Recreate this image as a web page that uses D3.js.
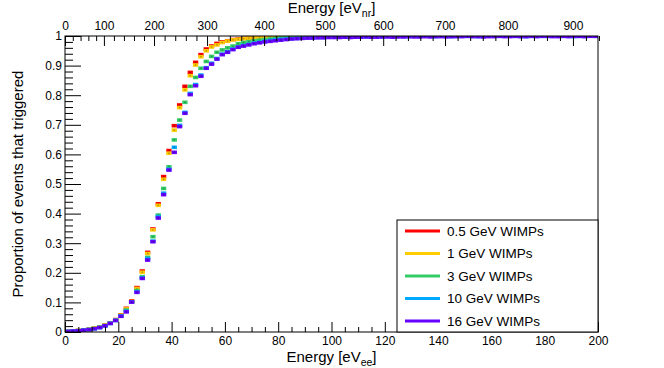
<!DOCTYPE html>
<html>
<head>
<meta charset="utf-8">
<script src="https://cdn.jsdelivr.net/npm/d3@7"></script>
<style>
  body { margin: 0; background: #fff; }
  svg text { font-family: "Liberation Sans", Arial, Helvetica, sans-serif; fill: #000; }
</style>
</head>
<body>
<div id="chart"></div>
<script>
// bin centres in eV_ee (bins 2 eV wide)
const binWidth = 2;
const binCenters = [
  1, 3, 5, 7, 9, 11, 13, 15, 17, 19,
  21, 23, 25, 27, 29, 31, 33, 35, 37, 39,
  41, 43, 45, 47, 49, 51, 53, 55, 57, 59,
  61, 63, 65, 67, 69, 71, 73, 75, 77, 79,
  81, 83, 85, 87, 89, 91, 93, 95, 97, 99,
  101, 103, 105, 107, 109, 111, 113, 115, 117, 119,
  121, 123, 125, 127, 129, 131, 133, 135, 137, 139,
  141, 143, 145, 147, 149, 151, 153, 155, 157, 159,
  161, 163, 165, 167, 169, 171, 173, 175, 177, 179,
  181, 183, 185, 187, 189, 191, 193, 195, 197, 199
];

const seriesNames = ["0.5 GeV WIMPs", "1 GeV WIMPs", "3 GeV WIMPs", "10 GeV WIMPs", "16 GeV WIMPs"];
const seriesColors = ["#ff0000", "#ffcc00", "#33cc66", "#00aaff", "#6600ff"];

const eff05 = [
  0.002, 0.003, 0.005, 0.007, 0.009, 0.013, 0.017, 0.023, 0.031, 0.042,
  0.058, 0.080, 0.105, 0.150, 0.206, 0.269, 0.348, 0.433, 0.525, 0.613,
  0.697, 0.767, 0.830, 0.877, 0.911, 0.937, 0.956, 0.966, 0.975, 0.980,
  0.984, 0.988, 0.990, 0.992, 0.993, 0.995, 0.996, 0.996, 0.997, 0.998,
  0.998, 0.998, 0.999, 0.998, 0.999, 0.999, 0.999, 0.999, 1.000, 0.999,
  0.999, 1.000, 0.999, 1.000, 1.000, 0.999, 1.000, 1.000, 1.000, 0.999,
  1.000, 1.000, 1.000, 1.000, 0.999, 1.000, 1.000, 1.000, 1.000, 1.000,
  1.000, 1.000, 0.999, 1.000, 1.000, 1.000, 1.000, 1.000, 1.000, 1.000,
  1.000, 1.000, 1.000, 1.000, 1.000, 1.000, 1.000, 1.000, 1.000, 1.000,
  1.000, 1.000, 1.000, 1.000, 1.000, 1.000, 1.000, 1.000, 1.000, 1.000
];
const eff1 = [
  0.002, 0.003, 0.005, 0.007, 0.009, 0.013, 0.017, 0.023, 0.031, 0.041,
  0.057, 0.078, 0.103, 0.147, 0.202, 0.265, 0.345, 0.428, 0.516, 0.604,
  0.682, 0.758, 0.818, 0.866, 0.902, 0.930, 0.950, 0.963, 0.970, 0.978,
  0.983, 0.987, 0.989, 0.991, 0.993, 0.994, 0.995, 0.996, 0.997, 0.997,
  0.998, 0.998, 0.998, 0.999, 0.999, 0.999, 0.999, 0.999, 0.999, 1.000,
  0.999, 0.999, 1.000, 0.999, 1.000, 1.000, 0.999, 1.000, 1.000, 1.000,
  1.000, 0.999, 1.000, 1.000, 1.000, 1.000, 1.000, 0.999, 1.000, 1.000,
  1.000, 1.000, 1.000, 1.000, 1.000, 1.000, 0.999, 1.000, 1.000, 1.000,
  1.000, 1.000, 1.000, 1.000, 1.000, 1.000, 1.000, 1.000, 1.000, 1.000,
  1.000, 1.000, 1.000, 1.000, 1.000, 1.000, 1.000, 1.000, 1.000, 1.000
];
const eff3 = [
  0.002, 0.003, 0.005, 0.007, 0.009, 0.012, 0.016, 0.022, 0.030, 0.040,
  0.055, 0.074, 0.102, 0.140, 0.187, 0.252, 0.322, 0.395, 0.485, 0.558,
  0.649, 0.716, 0.776, 0.830, 0.860, 0.891, 0.914, 0.931, 0.945, 0.953,
  0.960, 0.966, 0.974, 0.978, 0.981, 0.984, 0.986, 0.988, 0.990, 0.992,
  0.993, 0.994, 0.995, 0.996, 0.996, 0.997, 0.997, 0.998, 0.998, 0.998,
  0.998, 0.999, 0.998, 0.999, 0.999, 0.999, 0.998, 0.999, 0.999, 0.999,
  1.000, 0.999, 0.999, 1.000, 0.999, 1.000, 0.999, 1.000, 1.000, 0.999,
  1.000, 1.000, 1.000, 0.999, 1.000, 1.000, 1.000, 1.000, 0.999, 1.000,
  1.000, 1.000, 1.000, 1.000, 1.000, 0.999, 1.000, 1.000, 1.000, 1.000,
  1.000, 1.000, 1.000, 1.000, 1.000, 1.000, 0.999, 1.000, 1.000, 1.000
];
const eff10 = [
  0.002, 0.003, 0.004, 0.006, 0.008, 0.011, 0.015, 0.021, 0.029, 0.039,
  0.054, 0.070, 0.102, 0.136, 0.183, 0.248, 0.307, 0.390, 0.469, 0.550,
  0.624, 0.698, 0.742, 0.806, 0.836, 0.868, 0.893, 0.908, 0.924, 0.939,
  0.947, 0.956, 0.963, 0.968, 0.972, 0.976, 0.979, 0.982, 0.985, 0.987,
  0.989, 0.990, 0.991, 0.992, 0.993, 0.994, 0.994, 0.995, 0.995, 0.996,
  0.996, 0.997, 0.996, 0.997, 0.997, 0.998, 0.997, 0.998, 0.998, 0.997,
  0.998, 0.998, 0.999, 0.998, 0.998, 0.999, 0.998, 0.999, 0.999, 0.998,
  0.999, 0.999, 0.998, 0.999, 0.999, 0.999, 0.999, 0.998, 0.999, 0.999,
  0.999, 0.999, 0.999, 1.000, 0.999, 0.999, 0.998, 0.999, 0.999, 0.999,
  0.999, 1.000, 0.999, 0.999, 0.999, 0.998, 0.999, 0.999, 1.000, 0.999
];
const eff16 = [
  0.002, 0.003, 0.004, 0.006, 0.008, 0.011, 0.015, 0.021, 0.029, 0.039,
  0.053, 0.068, 0.101, 0.134, 0.181, 0.243, 0.305, 0.385, 0.464, 0.547,
  0.607, 0.694, 0.739, 0.802, 0.832, 0.864, 0.891, 0.905, 0.922, 0.937,
  0.945, 0.954, 0.962, 0.966, 0.970, 0.974, 0.977, 0.980, 0.982, 0.984,
  0.986, 0.988, 0.990, 0.991, 0.992, 0.993, 0.993, 0.994, 0.994, 0.995,
  0.995, 0.995, 0.996, 0.995, 0.996, 0.996, 0.997, 0.996, 0.996, 0.997,
  0.997, 0.996, 0.997, 0.997, 0.998, 0.997, 0.997, 0.998, 0.997, 0.998,
  0.998, 0.997, 0.998, 0.998, 0.998, 0.999, 0.998, 0.998, 0.997, 0.998,
  0.998, 0.999, 0.998, 0.998, 0.999, 0.998, 0.998, 0.999, 0.998, 0.999,
  0.999, 0.998, 0.998, 0.999, 0.998, 0.999, 0.999, 0.998, 0.999, 0.999
];
const seriesValues = [eff05, eff1, eff3, eff10, eff16];

// axis ticks
const xMajor = [0, 20, 40, 60, 80, 100, 120, 140, 160, 180, 200];
const yMajor = [0, 0.1, 0.2, 0.3, 0.4, 0.5, 0.6, 0.7, 0.8, 0.9, 1];
// top axis: nuclear recoil energy labels and the eV_ee where each sits
const topTickNr = [0, 100, 200, 300, 400, 500, 600, 700, 800, 900];
const topTickEe = [0, 14.6, 33.4, 53.3, 74.7, 97.6, 119.4, 142.6, 166.2, 190.6];

const width = 664, height = 368;
const margin = { top: 36, right: 66, bottom: 36, left: 65 };

const svg = d3.select("#chart").append("svg")
  .attr("width", width)
  .attr("height", height);

const x = d3.scaleLinear().domain([0, 200]).range([margin.left, width - margin.right]);
const y = d3.scaleLinear().domain([0, 1]).range([height - margin.bottom, margin.top]);
// piecewise scale nr -> pixel, through the ee positions
const xTop = d3.scaleLinear().domain(topTickNr).range(topTickEe.map(e => x(e)));

svg.append("defs").append("clipPath").attr("id", "plotclip")
  .append("rect")
  .attr("x", margin.left).attr("y", margin.top)
  .attr("width", x(200) - x(0)).attr("height", y(0) - y(1));

// markers: horizontal bar over the bin, dot at centre
const plot = svg.append("g").attr("clip-path", "url(#plotclip)");
seriesValues.forEach((vals, s) => {
  const col = seriesColors[s];
  const g = plot.append("g");
  const pts = binCenters.map((c, i) => ({ c: c, v: vals[i] }));
  g.selectAll("rect.bar")
    .data(pts)
    .join("rect")
    .attr("class", "bar")
    .attr("x", d => x(d.c - binWidth / 2))
    .attr("width", d => x(d.c + binWidth / 2) - x(d.c - binWidth / 2))
    .attr("y", d => y(d.v) - 1.8)
    .attr("height", 3.6)
    .attr("fill", col);
  g.selectAll("rect.dot")
    .data(pts)
    .join("rect")
    .attr("class", "dot")
    .attr("x", d => x(d.c) - 0.7)
    .attr("y", d => y(d.v) - 0.7)
    .attr("width", 1.4)
    .attr("height", 1.4)
    .attr("fill", d3.color(col).darker(1.6))
    .attr("opacity", 0.7);
});

// axes (ticks point inward, like ROOT)
const fmt = d3.format("~g");
const xMinor = d3.range(0, 201, 5).filter(v => v % 20 !== 0);
const yMinor = d3.range(0, 51, 1).map(v => v / 50).filter((v, i) => i % 5 !== 0);
const topMinor = d3.range(0, 941, 20).filter(v => v % 100 !== 0);

function clean(g) {
  g.select(".domain").remove();
  g.selectAll("line").attr("stroke", "#000").attr("stroke-width", 1);
  g.selectAll("text").attr("font-size", 12).attr("font-family", null);
}

svg.append("g")
  .attr("transform", `translate(0, ${y(0)})`)
  .call(d3.axisBottom(x).tickValues(xMajor).tickSize(-10).tickPadding(4).tickFormat(fmt))
  .call(clean);
svg.append("g")
  .attr("transform", `translate(0, ${y(0)})`)
  .call(d3.axisBottom(x).tickValues(xMinor).tickSize(-5).tickFormat(""))
  .call(clean);

svg.append("g")
  .attr("transform", `translate(${x(0)}, 0)`)
  .call(d3.axisLeft(y).tickValues(yMajor).tickSize(-16).tickPadding(3).tickFormat(fmt))
  .call(clean);
svg.append("g")
  .attr("transform", `translate(${x(0)}, 0)`)
  .call(d3.axisLeft(y).tickValues(yMinor).tickSize(-8).tickFormat(""))
  .call(clean);

svg.append("g")
  .attr("transform", `translate(0, ${y(1)})`)
  .call(d3.axisTop(xTop).tickValues(topTickNr).tickSize(-10).tickPadding(6).tickFormat(fmt))
  .call(clean);
svg.append("g")
  .attr("transform", `translate(0, ${y(1)})`)
  .call(d3.axisTop(xTop).tickValues(topMinor).tickSize(-5).tickFormat(""))
  .call(clean);

// frame
svg.append("rect")
  .attr("x", x(0)).attr("y", y(1))
  .attr("width", x(200) - x(0)).attr("height", y(0) - y(1))
  .attr("fill", "none").attr("stroke", "#000").attr("stroke-width", 1);

// axis titles
const midX = (x(0) + x(200)) / 2;
const bt = svg.append("text").attr("x", midX).attr("y", 362)
  .attr("text-anchor", "middle").attr("font-size", 15);
bt.append("tspan").text("Energy [eV");
bt.append("tspan").attr("font-size", 10.5).attr("dy", 4).text("ee");
bt.append("tspan").attr("dy", -4).text("]");

const tt = svg.append("text").attr("x", midX).attr("y", 13)
  .attr("text-anchor", "middle").attr("font-size", 15);
tt.append("tspan").text("Energy [eV");
tt.append("tspan").attr("font-size", 10.5).attr("dy", 4).text("nr");
tt.append("tspan").attr("dy", -4).text("]");

svg.append("text")
  .attr("transform", `translate(23, ${(y(0) + y(1)) / 2}) rotate(-90)`)
  .attr("text-anchor", "middle")
  .attr("font-size", 15)
  .text("Proportion of events that triggered");

// legend
const legend = svg.append("g");
legend.append("rect")
  .attr("x", 397).attr("y", 220).attr("width", x(200) - 397).attr("height", y(0) - 220)
  .attr("fill", "#fff").attr("stroke", "#000").attr("stroke-width", 1);
seriesNames.forEach((name, i) => {
  const ly = 231 + i * 22.5;
  legend.append("line")
    .attr("x1", 405).attr("x2", 440).attr("y1", ly).attr("y2", ly)
    .attr("stroke", seriesColors[i]).attr("stroke-width", 3);
  legend.append("text")
    .attr("x", 447).attr("y", ly).attr("dy", "0.35em")
    .attr("font-size", 13.5)
    .text(name);
});
</script>
</body>
</html>
